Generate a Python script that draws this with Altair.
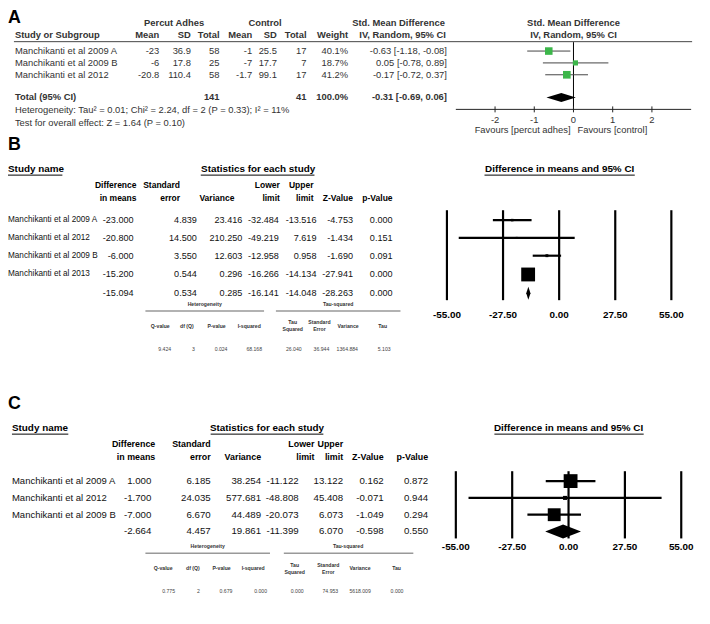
import altair as alt
import pandas as pd

# ---------------- data ----------------
# Panel A (RevMan)
a_studies = ["Manchikanti et al 2009 A", "Manchikanti et al 2009 B", "Manchikanti et al 2012"]
a_exp_mean = ["-23", "-6", "-20.8"]
a_exp_sd = ["36.9", "17.8", "110.4"]
a_exp_n = [58, 25, 58]
a_ctl_mean = ["-1", "-7", "-1.7"]
a_ctl_sd = ["25.5", "17.7", "99.1"]
a_ctl_n = [17, 7, 17]
a_weight = [40.1, 18.7, 41.2]
a_smd = [-0.63, 0.05, -0.17]
a_lo = [-1.18, -0.78, -0.72]
a_hi = [-0.08, 0.89, 0.37]
a_total = [-0.31, -0.69, 0.06]
a_total_n = [141, 41]
a_ticks = [-2, -1, 0, 1, 2]

# Panel B (CMA)
b_studies = ["Manchikanti et al 2009 A", "Manchikanti et al 2012", "Manchikanti et al 2009 B", "Manchikanti et al 2013"]
b_diff = [-23.000, -20.800, -6.000, -15.200]
b_se = [4.839, 14.500, 3.550, 0.544]
b_var = [23.416, 210.250, 12.603, 0.296]
b_lo = [-32.484, -49.219, -12.958, -16.266]
b_hi = [-13.516, 7.619, 0.958, -14.134]
b_z = [-4.753, -1.434, -1.690, -27.941]
b_p = [0.000, 0.151, 0.091, 0.000]
b_pooled = [-15.094, 0.534, 0.285, -16.141, -14.048, -28.263, 0.000]
b_het = ["9.424", "3", "0.024", "68.168"]
b_tau = ["26.040", "36.944", "1364.884", "5.103"]

# Panel C (CMA)
c_studies = ["Manchikanti et al 2009 A", "Manchikanti et al 2012", "Manchikanti et al 2009 B"]
c_diff = [1.000, -1.700, -7.000]
c_se = [6.185, 24.035, 6.670]
c_var = [38.254, 577.681, 44.489]
c_lo = [-11.122, -48.808, -20.073]
c_hi = [13.122, 45.408, 6.073]
c_z = [0.162, -0.071, -1.049]
c_p = [0.872, 0.944, 0.294]
c_pooled = [-2.664, 4.457, 19.861, -11.399, 6.070, -0.598, 0.550]
c_het = ["0.775", "2", "0.679", "0.000"]
c_tau = ["0.000", "74.953", "5618.009", "0.000"]

cma_ticks = [-55, -27.5, 0, 27.5, 55]
het_heads = ["Q-value", "df (Q)", "P-value", "I-squared"]
tau_heads = [("Tau", "Squared"), ("Standard", "Error"), ("Variance", ""), ("Tau", "")]

# ---------------- layout ----------------
FONT = "Liberation Sans"
W, H = 702, 616
XS = alt.Scale(domain=[8, 710], range=[0, W], nice=False, zero=False)
YS = alt.Scale(domain=[8, 624], range=[0, H], nice=False, zero=False)


def px(v):
    return v - 8


SA = alt.Scale(domain=[-3, 3], range=[px(461), px(699)], nice=False, zero=False)
SB = alt.Scale(domain=[-55, 55], range=[px(452), px(679)], nice=False, zero=False)
SC = alt.Scale(domain=[-55, 55], range=[px(461), px(689)], nice=False, zero=False)

layers = []


def T(rows, align="left", bold=False, size=9.5, color="#222"):
    df = pd.DataFrame(rows, columns=["t", "x", "y"])
    layers.append(
        alt.Chart(df).mark_text(align=align, baseline="middle", font=FONT, fontSize=size,
                                fontWeight="bold" if bold else "normal", color=color)
        .encode(x=alt.X("x:Q", scale=XS, axis=None), y=alt.Y("y:Q", scale=YS, axis=None), text="t:N"))


def R(rows, color="#000", width=1.0):
    df = pd.DataFrame(rows, columns=["x", "x2", "y", "y2"])
    layers.append(
        alt.Chart(df).mark_rule(color=color, strokeWidth=width)
        .encode(x=alt.X("x:Q", scale=XS, axis=None), x2="x2:Q",
                y=alt.Y("y:Q", scale=YS, axis=None), y2="y2:Q"))


def FT(vals, labels, y, scale, size=10, bold=True, color="#000", align="center"):
    df = pd.DataFrame({"v": vals, "t": labels, "y": [y] * len(vals)})
    layers.append(
        alt.Chart(df).mark_text(align=align, baseline="middle", font=FONT, fontSize=size,
                                fontWeight="bold" if bold else "normal", color=color)
        .encode(x=alt.X("v:Q", scale=scale, axis=None), y=alt.Y("y:Q", scale=YS, axis=None), text="t:N"))


def FV(vals, y1, y2, scale, color="#000", width=2.0):
    df = pd.DataFrame({"v": vals, "y": [y1] * len(vals), "y2": [y2] * len(vals)})
    layers.append(
        alt.Chart(df).mark_rule(color=color, strokeWidth=width)
        .encode(x=alt.X("v:Q", scale=scale, axis=None), y=alt.Y("y:Q", scale=YS, axis=None), y2="y2:Q"))


def FCI(lo, hi, ys, scale, color="#000", width=2.0):
    df = pd.DataFrame({"lo": lo, "hi": hi, "y": ys})
    layers.append(
        alt.Chart(df).mark_rule(color=color, strokeWidth=width)
        .encode(x=alt.X("lo:Q", scale=scale, axis=None), x2="hi:Q", y=alt.Y("y:Q", scale=YS, axis=None)))


def FSQ(est, w, ys, scale, wmax, smax, color="#000", smin=3):
    df = pd.DataFrame({"e": est, "w": w, "y": ys})
    layers.append(
        alt.Chart(df).mark_square(filled=True, color=color, opacity=1)
        .encode(x=alt.X("e:Q", scale=scale, axis=None), y=alt.Y("y:Q", scale=YS, axis=None),
                size=alt.Size("w:Q", scale=alt.Scale(domain=[0, wmax], range=[smin, smax]), legend=None)))


def FD(est, lo, hi, yc, h, scale, color="#000"):
    df = pd.DataFrame({"x": [lo, est, hi], "top": [yc, yc - h, yc], "bot": [yc, yc + h, yc]})
    layers.append(
        alt.Chart(df).mark_area(color=color, opacity=1, orient="vertical", interpolate="linear")
        .encode(x=alt.X("x:Q", scale=scale, axis=None), y=alt.Y("top:Q", scale=YS, axis=None), y2="bot:Q"))


def f3(v):
    return f"{v:.3f}"


# ================= Panel A =================
AC = "#333"
AF = 9.5
T([("A", 8, 15)], bold=True, size=18, color="#000")
T([("Percut Adhes", 176, 20), ("Control", 268, 20), ("Std. Mean Difference", 403, 20),
   ("Std. Mean Difference", 580, 20), ("IV, Random, 95% CI", 580, 32)],
  align="center", bold=True, size=AF, color=AC)
T([("Study or Subgroup", 15, 32)], bold=True, size=AF, color=AC)
T([("Mean", 161, 32), ("SD", 193, 32), ("Total", 222, 32), ("Mean", 255, 32), ("SD", 280, 32),
   ("Total", 310, 32), ("Weight", 352, 32), ("IV, Random, 95% CI", 451, 32)],
  align="right", bold=True, size=AF, color=AC)
R([(14, 700, 38.5, 38.5)], color="#444", width=1)
a_rows_y = [48, 60, 72]
T([(s, 15, y) for s, y in zip(a_studies, a_rows_y)], size=AF, color=AC)
rows = []
for i, y in enumerate(a_rows_y):
    rows += [(a_exp_mean[i], 161, y), (a_exp_sd[i], 193, y), (str(a_exp_n[i]), 222, y),
             (a_ctl_mean[i], 255, y), (a_ctl_sd[i], 280, y), (str(a_ctl_n[i]), 310, y),
             (f"{a_weight[i]:.1f}%", 352, y),
             (f"{a_smd[i]:.2f} [{a_lo[i]:.2f}, {a_hi[i]:.2f}]", 452, y)]
T(rows, align="right", size=AF, color=AC)
T([("Total (95% CI)", 15, 95)], bold=True, size=AF, color=AC)
T([(str(a_total_n[0]), 222, 95), (str(a_total_n[1]), 310, 95),
   (f"{sum(a_weight):.1f}%", 352, 95),
   (f"{a_total[0]:.2f} [{a_total[1]:.2f}, {a_total[2]:.2f}]", 452, 95)],
  align="right", bold=True, size=AF, color=AC)
T([("Heterogeneity: Tau² = 0.01; Chi² = 2.24, df = 2 (P = 0.33); I² = 11%", 15, 108),
   ("Test for overall effect: Z = 1.64 (P = 0.10)", 15, 121)], size=AF, color=AC)
# forest A
FV([0], 39, 107, SA, color="#000", width=1)
FCI([-3], [3], [107], SA, color="#222", width=1)
FV(a_ticks, 104, 110, SA, color="#222", width=1)
FT(a_ticks, [str(t) for t in a_ticks], 118, SA, size=AF, bold=False, color=AC)
FCI(a_lo, a_hi, a_rows_y, SA, color="#444", width=1)
FSQ(a_smd, a_weight, a_rows_y, SA, wmax=41.2, smax=60, color="#3cb64a", smin=0)
FD(a_total[0], a_total[1], a_total[2], 95, 4.5, SA)
T([("Favours [percut adhes]", 577, 128)], align="right", size=AF, color=AC)
T([("Favours [control]", 584, 128)], align="left", size=AF, color=AC)


# ================= CMA panels =================
def cma_panel(letter, ly, top, names, name_x, name_size, cols_right, hdr_right, hdr_size, fsize,
              diff, se, var, lo, hi, z, p, pooled, rows_y, scale, fcenter,
              grid_top, grid_bot, axis_y, stat_c, stat_ul, title_ul, name_ul,
              het_y, het_c, het_lines, het_hx, het_vx, het, tau, diam_h):
    T([(letter, 8, ly)], bold=True, size=18, color="#000")
    T([("Study name", name_x, top)], bold=True, size=10, color="#000")
    T([("Statistics for each study", stat_c, top), ("Difference in means and 95% CI", fcenter, top)],
      align="center", bold=True, size=10, color="#000")
    R([(name_ul[0], name_ul[1], top + 6.5, top + 6.5), (stat_ul[0], stat_ul[1], top + 6.5, top + 6.5),
       (title_ul[0], title_ul[1], top + 6.5, top + 6.5)], color="#000", width=1)
    h1, h2 = top + 17, top + 30
    T([("Difference", hdr_right[0], h1), ("Standard", hdr_right[1], h1), ("Lower", hdr_right[3], h1),
       ("Upper", hdr_right[4], h1),
       ("in means", hdr_right[0], h2), ("error", hdr_right[1], h2), ("Variance", hdr_right[2], h2),
       ("limit", hdr_right[3], h2), ("limit", hdr_right[4], h2), ("Z-Value", hdr_right[5], h2),
       ("p-Value", hdr_right[6], h2)], align="right", bold=True, size=hdr_size, color="#000")
    T([(s, name_x, y) for s, y in zip(names, rows_y)], size=name_size, color="#111")
    pooled_y = rows_y[-1] + (rows_y[-1] - rows_y[-2])
    rows = []
    allrows = [list(r) for r in zip(diff, se, var, lo, hi, z, p)] + [pooled]
    for r, y in zip(allrows, rows_y + [pooled_y]):
        for v, cx in zip(r, cols_right):
            rows.append((f3(v), cx, y))
    T(rows, align="right", size=fsize, color="#111")
    # forest
    FV(cma_ticks, grid_top, grid_bot, scale, width=2.2)
    FT(cma_ticks, [f"{t:.2f}" for t in cma_ticks], axis_y, scale, size=10, bold=True)
    FCI(lo, hi, rows_y, scale, width=2.2)
    w = [1 / v for v in var]
    FSQ(diff, w, rows_y, scale, wmax=max(w), smax=196, smin=4)
    FD(pooled[0], pooled[3], pooled[4], pooled_y, diam_h, scale)
    # heterogeneity block
    T([("Heterogeneity", het_c[0], het_y), ("Tau-squared", het_c[1], het_y)],
      align="center", bold=True, size=5.2, color="#333")
    R([(het_lines[0], het_lines[1], het_y + 7, het_y + 7), (het_lines[2], het_lines[3], het_y + 7, het_y + 7)],
      color="#999", width=1.5)
    hy = het_y + 22
    hr = [(t, x, hy) for t, x in zip(het_heads, het_hx[:4])]
    for (a, b), x in zip(tau_heads, het_hx[4:]):
        if b:
            hr += [(a, x, hy - 3.5), (b, x, hy + 3.5)]
        else:
            hr.append((a, x, hy))
    T(hr, align="center", bold=True, size=5.2, color="#333")
    vy = het_y + 45
    T([(t, x, vy) for t, x in zip(het + tau, het_vx)], align="right", size=5.2, color="#444")


cma_panel("B", 143, 167, b_studies, 8, 8.3, [135, 199, 245, 282, 320, 357, 397],
          [138, 182, 237, 283, 317, 357, 397], 8.6, 9.2,
          b_diff, b_se, b_var, b_lo, b_hi, b_z, b_p, b_pooled, [219, 237, 255, 274], SB, 566,
          209, 300, 315, 261, (203, 318), (490, 642), (8, 63),
          304, (207, 342), (147, 267, 279, 405),
          [162, 189, 219, 252, 296, 323, 352, 387], [173, 197, 230, 265, 305, 333, 362, 395],
          b_het, b_tau, 6.5)

cma_panel("C", 405, 429, c_studies, 12, 9.6, [153, 213, 264, 302, 347, 388, 433],
          [157, 213, 264, 318, 347, 388, 433], 9, 9.8,
          c_diff, c_se, c_var, c_lo, c_hi, c_z, c_p, c_pooled, [483, 500, 517], SC, 575,
          473, 541, 550, 270, (213, 327), (500, 651), (12, 69),
          549, (210, 352), (147, 273, 287, 418),
          [165, 195, 224, 256, 298, 332, 364, 401], [177, 202, 235, 270, 307, 342, 375, 408],
          c_het, c_tau, 7)

chart = alt.layer(*layers).resolve_scale(x="independent", y="independent", size="independent").properties(
    width=W, height=H, padding=0, autosize=alt.AutoSizeParams(type="none"), background="white"
).configure_view(stroke=None)

chart.save("out.html", embed_options={"renderer": "svg", "actions": False})
